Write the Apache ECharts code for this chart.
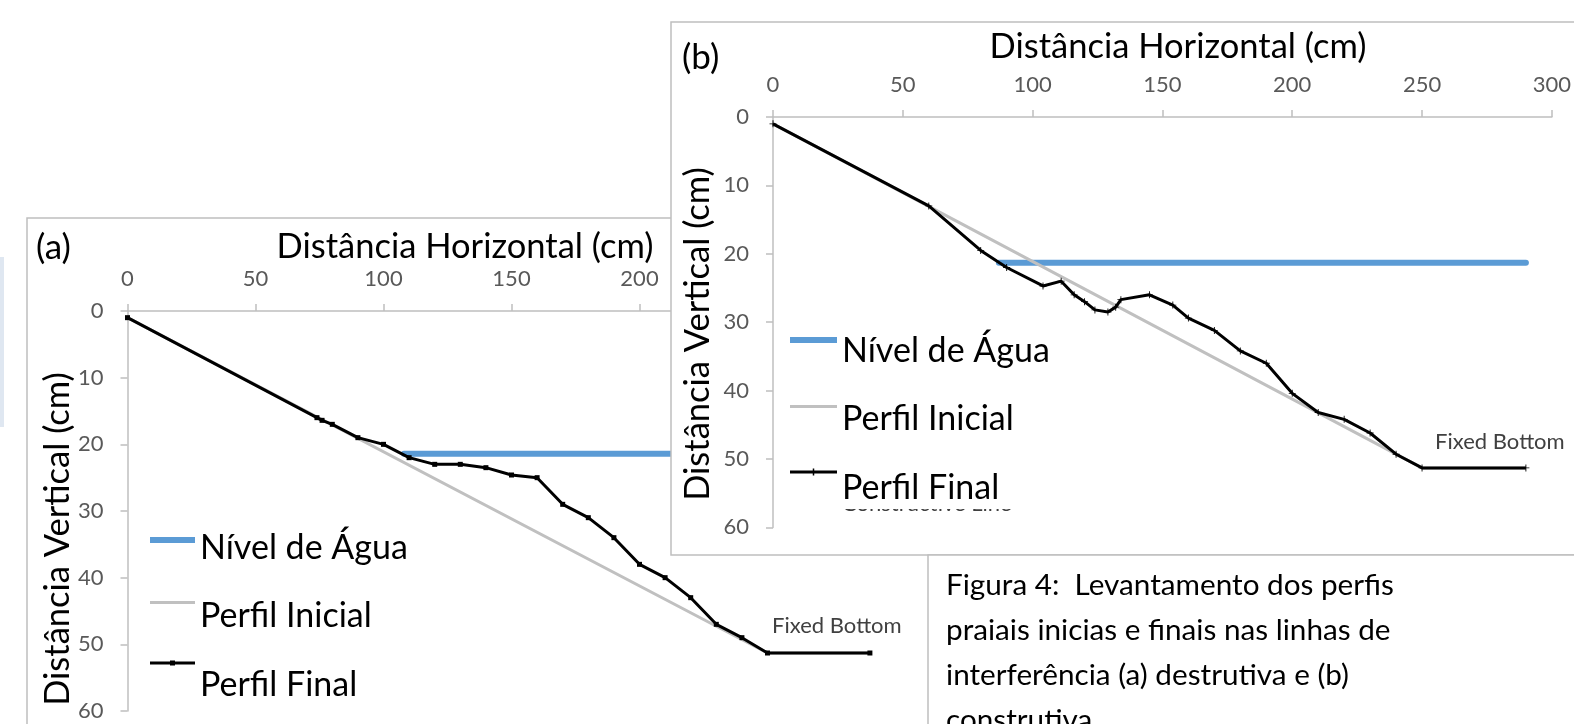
<!DOCTYPE html>
<html><head><meta charset="utf-8">
<script src="https://cdn.jsdelivr.net/npm/echarts@6/dist/echarts.min.js"></script>
<style>html,body{margin:0;padding:0;background:#fff}#c{width:1574px;height:724px}</style>
</head><body><div id="c"></div>
<script>
// ---- data ----
const xTicks = [0, 50, 100, 150, 200, 250, 300];
const yTicks = [0, 10, 20, 30, 40, 50, 60];
const seriesNames = ['Nível de Água', 'Perfil Inicial', 'Perfil Final'];
const fixedLabel = 'Fixed Bottom';

const aWater = [[108, 21.4], [290, 21.4]];
const aInitial = [[0, 1], [250, 51.3], [290, 51.3]];
const aFinal = [[0, 1], [74, 16], [76, 16.4], [80, 17], [90, 19], [100, 20], [110, 22], [120, 23], [130, 23], [140, 23.5], [150, 24.6], [160, 25], [170, 29], [180, 31], [190, 34], [200, 38], [210, 40], [220, 43], [230, 47], [240, 49], [250, 51.3], [290, 51.3]];

const bWater = [[87, 21.3], [290, 21.3]];
const bInitial = [[0, 1], [250, 51.3], [290, 51.3]];
const bFinal = [[0, 1], [60, 13], [80, 19.5], [90, 22], [104, 24.7], [111, 24], [116, 26], [120, 27], [124, 28.2], [129, 28.5], [132, 27.8], [134, 26.7], [145, 26], [154, 27.5], [160, 29.4], [170, 31.2], [180, 34.2], [190, 36], [200, 40.4], [210, 43.2], [220, 44.2], [230, 46.2], [240, 49.3], [250, 51.3], [290, 51.3]];

const titleA = '(a)', titleB = '(b)';
const xName = 'Distância Horizontal (cm)';
const yName = 'Distância Vertical (cm)';
const captionLines = ['Figura 4:  Levantamento dos perfis', 'praiais inicias e finais nas linhas de', 'interferência (a) destrutiva e (b)', 'construtiva'];
const hiddenText = 'Constructive Line';

// ---- styling helpers ----
const FONT = 'Lato';
const axisGray = '#bfbfbf';
function xAxisDef(grid, z) {
  return {
    gridIndex: grid, type: 'value', position: 'top',
    min: xTicks[0], max: xTicks[xTicks.length - 1], interval: xTicks[1] - xTicks[0],
    axisLine: { show: true, lineStyle: { color: axisGray, width: 1.5 } },
    axisTick: { show: true, length: 7, lineStyle: { color: axisGray, width: 1.5 } },
    axisLabel: { margin: 21.5, color: '#595959', fontSize: 22, fontFamily: FONT },
    splitLine: { show: false }, z: z
  };
}
function yAxisDef(grid, z) {
  return {
    gridIndex: grid, type: 'value', inverse: true, position: 'left',
    min: yTicks[0], max: yTicks[yTicks.length - 1], interval: yTicks[1] - yTicks[0],
    axisLine: { show: true, lineStyle: { color: axisGray, width: 1.5 } },
    axisTick: { show: true, length: 7, lineStyle: { color: axisGray, width: 1.5 } },
    axisLabel: { margin: 24, color: '#595959', fontSize: 22, fontFamily: FONT },
    splitLine: { show: false }, z: z
  };
}
function seriesSet(idx, water, initial, fin, z, finSymbol, finSize, labelOffset) {
  const last = fin.length - 1;
  return [
    { type: 'line', name: seriesNames[0], xAxisIndex: idx, yAxisIndex: idx, data: water, symbol: 'none',
      lineStyle: { color: '#5b9bd5', width: 6, cap: 'round' }, itemStyle: { color: '#5b9bd5' }, z: z, silent: true },
    { type: 'line', name: seriesNames[1], xAxisIndex: idx, yAxisIndex: idx, data: initial, symbol: 'none',
      lineStyle: { color: '#c0c0c0', width: 3 }, itemStyle: { color: '#c0c0c0' }, z: z, silent: true },
    { type: 'line', name: seriesNames[2], xAxisIndex: idx, yAxisIndex: idx, data: fin,
      symbol: finSymbol, symbolSize: finSize,
      lineStyle: { color: '#000', width: 3 }, itemStyle: { color: '#000' }, z: z + 1, silent: true,
      label: { show: true, position: 'top', offset: labelOffset, color: '#404040', fontSize: 22, fontFamily: FONT,
        formatter: p => (p.dataIndex === last ? fixedLabel : '') } }
  ];
}
const plusMarker = 'path://M0,3.5L8,3.5L8,4.5L0,4.5Z M3.5,0L4.5,0L4.5,8L3.5,8Z';
// legend icons: line drawn above the text centre (text centre at box mid-height)
function iconPath(w, h, cy, th, marker) {
  let p = 'path://M0,0L0,0Z M' + w + ',' + h + 'L' + w + ',' + h + 'Z ' +
    'M0,' + (cy - th / 2) + 'L' + w + ',' + (cy - th / 2) + 'L' + w + ',' + (cy + th / 2) + 'L0,' + (cy + th / 2) + 'Z';
  const m = w / 2;
  if (marker === 'square') {
    p += ' M' + (m - 2.5) + ',' + (cy - 2.5) + 'L' + (m + 2.5) + ',' + (cy - 2.5) + 'L' + (m + 2.5) + ',' + (cy + 2.5) + 'L' + (m - 2.5) + ',' + (cy + 2.5) + 'Z';
  } else if (marker === 'tick') {
    p += ' M' + (m - 0.75) + ',' + (cy - 3.5) + 'L' + (m + 0.75) + ',' + (cy - 3.5) + 'L' + (m + 0.75) + ',' + (cy + 3.5) + 'L' + (m - 0.75) + ',' + (cy + 3.5) + 'Z';
  }
  return p;
}
function legendDef(left, top, iw, ih, gap, itemGap, z, centers, marker) {
  const ths = [6, 3, 3];
  return {
    orient: 'vertical', left: left, top: top, padding: 0,
    data: seriesNames.map((n, i) => ({ name: n, icon: iconPath(iw, ih, centers[i], ths[i], i === 2 ? marker : null) })),
    itemWidth: iw, itemHeight: ih, itemGap: itemGap, itemTextGap: gap, selectedMode: false,
    itemStyle: { borderWidth: 0 },
    textStyle: { fontFamily: FONT, fontSize: 34, color: '#000', lineHeight: 36 },
    z: z
  };
}
function txt(text, x, y, size, z, extra) {
  return { type: 'text', x: x, y: y, z: z, silent: true,
    style: Object.assign({ text: text, font: size + 'px ' + FONT, fill: '#000', verticalAlign: 'middle', align: 'left' }, extra || {}) };
}

const chart = echarts.init(document.getElementById('c'), null, { renderer: 'canvas' });
const option = {
  animation: false,
  backgroundColor: '#fff',
  grid: [
    { left: 127.5, top: 311, width: 768, height: 400, z: 1 },
    { left: 773, top: 117, width: 789.6, height: 410.4, z: 11 }
  ],
  xAxis: [xAxisDef(0, 1), xAxisDef(1, 11)],
  yAxis: [yAxisDef(0, 1), yAxisDef(1, 11)],
  legend: [
    legendDef(150, 520, 45, 56, 1, 12.5, 4, [20, 14, 6], 'square'),
    legendDef(790, 326, 47, 50, 4, 18.5, 14, [14, 12, 9], 'tick')
  ],
  series: [].concat(
    seriesSet(0, aWater, aInitial, aFinal, 2, 'rect', 5, [-33, -9]),
    seriesSet(1, bWater, bInitial, bFinal, 12, plusMarker, 7, [-26, -6])
  ),
  graphic: { elements: [
    { type: 'rect', z: 0, silent: true, shape: { x: 0, y: 257, width: 4, height: 170 }, style: { fill: '#dfe7f1' } },
    { type: 'rect', z: 0, silent: true, shape: { x: 27, y: 218, width: 1700, height: 700 }, style: { fill: '#fff', stroke: '#bfbfbf', lineWidth: 1.5 } },
    txt(titleA, 36, 248, 35, 3),
    txt(xName, 465, 247, 34.5, 3, { align: 'center' }),
    Object.assign(txt(yName, 58, 539, 34.5, 3, { align: 'center' }), { rotation: Math.PI / 2 }),
    { type: 'rect', z: 10, silent: true, shape: { x: 671, y: 22, width: 1000, height: 533 }, style: { fill: '#fff', stroke: '#bfbfbf', lineWidth: 1.5 } },
    txt(titleB, 682, 58, 35, 12),
    txt(xName, 1178, 47, 34.5, 12, { align: 'center' }),
    Object.assign(txt(yName, 698, 334, 34.5, 12, { align: 'center' }), { rotation: Math.PI / 2 }),
    txt(hiddenText, 842, 504, 22, 12, { fill: '#404040' }),
    { type: 'rect', z: 13, silent: true, shape: { x: 838, y: 468, width: 200, height: 41 }, style: { fill: '#fff' } },
    { type: 'rect', z: 20, silent: true, shape: { x: 928, y: 555, width: 700, height: 250 }, style: { fill: '#fff', stroke: '#bfbfbf', lineWidth: 1.5 } },
    { type: 'text', z: 21, silent: true, x: 946, y: 562.5, style: { text: captionLines.join('\n'), font: '29.7px ' + FONT, lineHeight: 45, fill: '#000', verticalAlign: 'top' } }
  ] }
};
chart.setOption(option);
</script>
</body></html>
